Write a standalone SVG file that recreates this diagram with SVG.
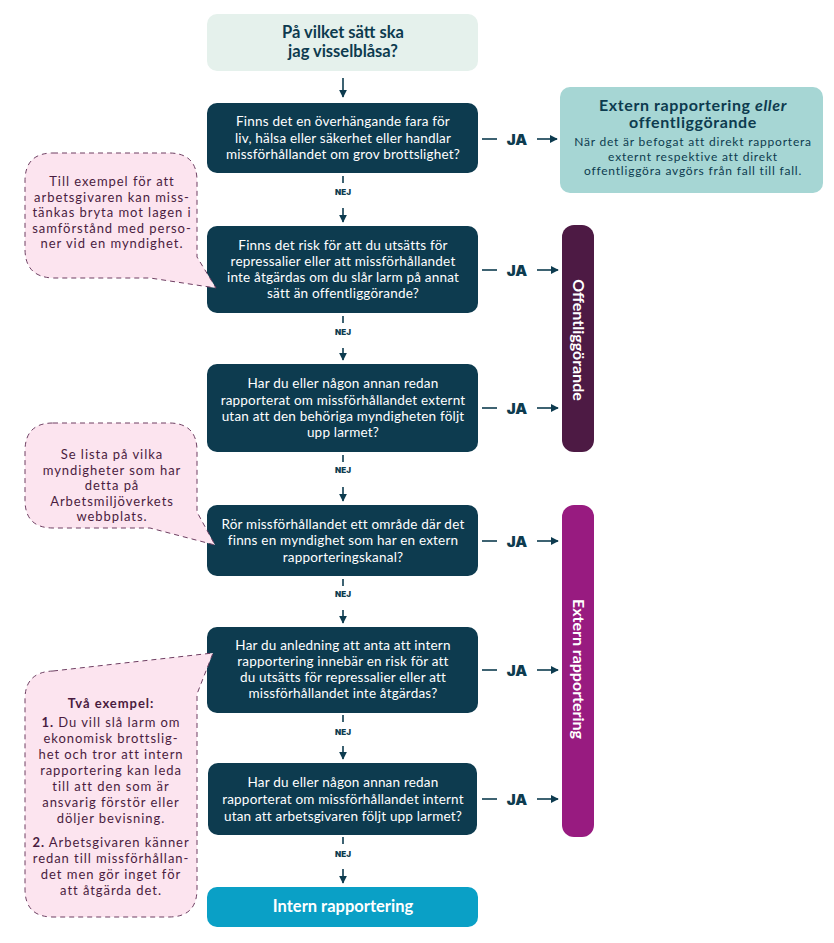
<svg xmlns="http://www.w3.org/2000/svg" width="834" height="943" viewBox="0 0 834 943">
<style>
.q{fill:#0d3b4f}
.qt{font-family:Lato,"Noto Sans",sans-serif;font-size:13.5px;letter-spacing:0.2px;fill:#fff;text-anchor:middle}
.ttl{font-family:Lato,"Noto Sans",sans-serif;font-size:16.5px;font-weight:bold;text-anchor:middle}
.ja{font-family:Inter,"Liberation Sans",sans-serif;font-size:15px;font-weight:900;fill:#0d3b4f;text-anchor:middle}
.nej{font-family:Inter,"Liberation Sans",sans-serif;font-size:8px;font-weight:900;fill:#0d3b4f;text-anchor:middle}
.ln{stroke:#0d3b4f;stroke-width:1.6;fill:none}
.co{fill:#fce4ef;stroke:#6e3f62;stroke-width:1;stroke-dasharray:5 4}
.ct{font-family:Lato,"Noto Sans",sans-serif;font-size:13px;letter-spacing:0.95px;fill:#4a1c40;text-anchor:middle}
.bar{font-family:Lato,"Noto Sans",sans-serif;font-size:16px;font-weight:bold;fill:#fff;text-anchor:middle}
.et{font-family:Lato,"Noto Sans",sans-serif;font-size:16px;font-weight:bold;letter-spacing:0.6px;fill:#0d3b4f;text-anchor:middle}
.eb{font-family:Lato,"Noto Sans",sans-serif;font-size:12px;letter-spacing:0.8px;fill:#0d3b4f;text-anchor:middle}
</style>
<defs>
<marker id="ah" viewBox="0 0 10 10" refX="9" refY="5" markerWidth="5" markerHeight="5" orient="auto" markerUnits="strokeWidth">
<path d="M0,0 L10,5 L0,10 z" fill="#0d3b4f"/>
</marker>
</defs>
<rect width="834" height="943" fill="#fff"/>

<g id="connectors">
<line class="ln" x1="343" y1="78" x2="343" y2="97" marker-end="url(#ah)"/>
<line class="ln" x1="343" y1="176" x2="343" y2="183"/>
<text class="nej" x="343" y="195">NEJ</text>
<line class="ln" x1="343" y1="208" x2="343" y2="222" marker-end="url(#ah)"/>
<line class="ln" x1="343" y1="316" x2="343" y2="323"/>
<text class="nej" x="343" y="335">NEJ</text>
<line class="ln" x1="343" y1="348" x2="343" y2="360" marker-end="url(#ah)"/>
<line class="ln" x1="343" y1="455" x2="343" y2="462"/>
<text class="nej" x="343" y="473">NEJ</text>
<line class="ln" x1="343" y1="487" x2="343" y2="501" marker-end="url(#ah)"/>
<line class="ln" x1="343" y1="579" x2="343" y2="586"/>
<text class="nej" x="343" y="597">NEJ</text>
<line class="ln" x1="343" y1="610" x2="343" y2="623" marker-end="url(#ah)"/>
<line class="ln" x1="343" y1="715" x2="343" y2="722"/>
<text class="nej" x="343" y="735">NEJ</text>
<line class="ln" x1="343" y1="746" x2="343" y2="759" marker-end="url(#ah)"/>
<line class="ln" x1="343" y1="837" x2="343" y2="844"/>
<text class="nej" x="343" y="857">NEJ</text>
<line class="ln" x1="343" y1="869" x2="343" y2="883" marker-end="url(#ah)"/>

<line class="ln" x1="482" y1="139" x2="497" y2="139"/>
<text class="ja" x="517" y="144.5">JA</text>
<line class="ln" x1="537" y1="139" x2="557" y2="139" marker-end="url(#ah)"/>
<line class="ln" x1="482" y1="270" x2="497" y2="270"/>
<text class="ja" x="517" y="275.5">JA</text>
<line class="ln" x1="537" y1="270" x2="558" y2="270" marker-end="url(#ah)"/>
<line class="ln" x1="482" y1="408" x2="497" y2="408"/>
<text class="ja" x="517" y="413.5">JA</text>
<line class="ln" x1="537" y1="408" x2="558" y2="408" marker-end="url(#ah)"/>
<line class="ln" x1="482" y1="541" x2="497" y2="541"/>
<text class="ja" x="517" y="546.5">JA</text>
<line class="ln" x1="537" y1="541" x2="558" y2="541" marker-end="url(#ah)"/>
<line class="ln" x1="482" y1="670" x2="497" y2="670"/>
<text class="ja" x="517" y="675.5">JA</text>
<line class="ln" x1="537" y1="670" x2="558" y2="670" marker-end="url(#ah)"/>
<line class="ln" x1="482" y1="799" x2="497" y2="799"/>
<text class="ja" x="517" y="804.5">JA</text>
<line class="ln" x1="537" y1="799" x2="558" y2="799" marker-end="url(#ah)"/>
</g>

<g id="start">
<rect x="207" y="14" width="271" height="57" rx="10" fill="#e5f1ec"/>
<text class="ttl" x="343" y="38" fill="#0d3b4f">På vilket sätt ska</text>
<text class="ttl" x="343" y="56.5" fill="#0d3b4f">jag visselblåsa?</text>
</g>

<g id="q1">
<rect class="q" x="207" y="103" width="271" height="70" rx="10"/>
<text class="qt" x="343" y="126">Finns det en överhängande fara för</text>
<text class="qt" x="343" y="142.5">liv, hälsa eller säkerhet eller handlar</text>
<text class="qt" x="343" y="159">missförhållandet om grov brottslighet?</text>
</g>

<g id="q2">
<rect class="q" x="207" y="226" width="271" height="87" rx="10"/>
<text class="qt" x="343" y="250">Finns det risk för att du utsätts för</text>
<text class="qt" x="343" y="266">repressalier eller att missförhållandet</text>
<text class="qt" x="343" y="282">inte åtgärdas om du slår larm på annat</text>
<text class="qt" x="343" y="298">sätt än offentliggörande?</text>
</g>

<g id="q3">
<rect class="q" x="207" y="364" width="271" height="88" rx="10"/>
<text class="qt" x="343" y="388">Har du eller någon annan redan</text>
<text class="qt" x="343" y="404.5">rapporterat om missförhållandet externt</text>
<text class="qt" x="343" y="420.5">utan att den behöriga myndigheten följt</text>
<text class="qt" x="343" y="436.5">upp larmet?</text>
</g>

<g id="q4">
<rect class="q" x="207" y="505" width="271" height="71" rx="10"/>
<text class="qt" x="343" y="529">Rör missförhållandet ett område där det</text>
<text class="qt" x="343" y="545">finns en myndighet som har en extern</text>
<text class="qt" x="343" y="561.5">rapporteringskanal?</text>
</g>

<g id="q5">
<rect class="q" x="207" y="627" width="271" height="86" rx="10"/>
<text class="qt" x="343" y="650">Har du anledning att anta att intern</text>
<text class="qt" x="343" y="666">rapportering innebär en risk för att</text>
<text class="qt" x="343" y="682">du utsätts för repressalier eller att</text>
<text class="qt" x="343" y="698">missförhållandet inte åtgärdas?</text>
</g>

<g id="q6">
<rect class="q" x="208" y="763" width="269" height="72" rx="10"/>
<text class="qt" x="343" y="787">Har du eller någon annan redan</text>
<text class="qt" x="343" y="804">rapporterat om missförhållandet internt</text>
<text class="qt" x="343" y="821">utan att arbetsgivaren följt upp larmet?</text>
</g>

<g id="intern">
<rect x="207" y="887" width="271" height="40" rx="10" fill="#0aa0c6"/>
<text class="ttl" x="343" y="912" fill="#fff" font-size="17">Intern rapportering</text>
</g>

<g id="extern-eller">
<rect x="560" y="87" width="263" height="106" rx="10" fill="#a6d6d4"/>
<text class="et" x="693" y="110.5">Extern rapportering <tspan font-style="italic">eller</tspan></text>
<text class="et" x="693" y="128">offentliggörande</text>
<text class="eb" x="693" y="146">När det är befogat att direkt rapportera</text>
<text class="eb" x="693" y="160.5">externt respektive att direkt</text>
<text class="eb" x="693" y="175">offentliggöra avgörs från fall till fall.</text>
</g>

<g id="offentliggorande">
<rect x="562" y="225" width="32" height="227" rx="12" fill="#4d1a44"/>
<text class="bar" transform="rotate(90 578 340)" x="578" y="345.5">Offentliggörande</text>
</g>

<g id="extern">
<rect x="562" y="505" width="32" height="332" rx="12" fill="#981b80"/>
<text class="bar" transform="rotate(90 578 669)" x="578" y="674.5">Extern rapportering</text>
</g>

<g id="callout1">
<path class="co" d="M53,153 H169 Q197,153 197,181 V257 L216,288 L150,278 H53 Q25,277 25,249 V181 Q25,153 53,153 Z"/>
<text class="ct" x="112" y="186">Till exempel för att</text>
<text class="ct" x="112" y="201.5">arbetsgivaren kan miss-</text>
<text class="ct" x="112" y="217">tänkas bryta mot lagen i</text>
<text class="ct" x="112" y="232.5">samförstånd med perso-</text>
<text class="ct" x="112" y="248">ner vid en myndighet.</text>
</g>

<g id="callout2">
<path class="co" d="M53,423 H169 Q197,423 197,451 V512 L215,545 L150,528 H53 Q25,528 25,500 V451 Q25,423 53,423 Z"/>
<text class="ct" x="112" y="459">Se lista på vilka</text>
<text class="ct" x="112" y="474.5">myndigheter som har</text>
<text class="ct" x="112" y="490">detta på</text>
<text class="ct" x="112" y="505.5">Arbetsmiljöverkets</text>
<text class="ct" x="112" y="521">webbplats.</text>
</g>

<g id="callout3">
<path class="co" d="M53,671 L213,653 L197,694 V889 Q197,917 169,917 H53 Q25,917 25,889 V699 Q25,672 53,671 Z"/>
<text class="ct" x="111" y="707.5" font-weight="bold">Två exempel:</text>
<text class="ct" x="111" y="726.5"><tspan font-weight="bold">1.</tspan> Du vill slå larm om</text>
<text class="ct" x="111" y="742.5">ekonomisk brottslig-</text>
<text class="ct" x="111" y="758.5">het och tror att intern</text>
<text class="ct" x="111" y="775">rapportering kan leda</text>
<text class="ct" x="111" y="791">till att den som är</text>
<text class="ct" x="111" y="807">ansvarig förstör eller</text>
<text class="ct" x="111" y="822.5">döljer bevisning.</text>
<text class="ct" x="111" y="846.5"><tspan font-weight="bold">2.</tspan> Arbetsgivaren känner</text>
<text class="ct" x="111" y="862.5">redan till missförhållan-</text>
<text class="ct" x="111" y="878.5">det men gör inget för</text>
<text class="ct" x="111" y="894.5">att åtgärda det.</text>
</g>
</svg>
